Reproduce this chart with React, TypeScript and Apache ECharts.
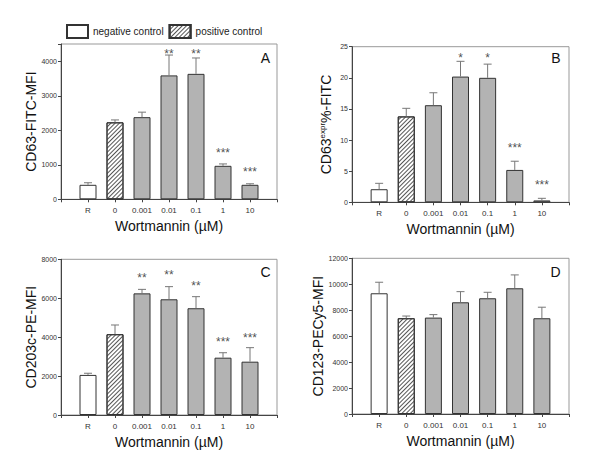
import React, { useEffect, useRef } from "react";
import * as echarts from "echarts";

const categories = ["R", "0", "0.001", "0.01", "0.1", "1", "10"];

const meanA = [420, 2230, 2380, 3590, 3635, 970, 420];
const semA = [60, 70, 145, 590, 460, 55, 30];
const sigA = ["", "", "", "**", "**", "***", "***"];
const sigYA = [null, null, null, 4300, 4300, 1430, 880];

const meanB = [2.1, 13.8, 15.6, 20.2, 20.0, 5.2, 0.3];
const semB = [0.95, 1.3, 2.0, 2.45, 2.2, 1.4, 0.34];
const sigB = ["", "", "", "*", "*", "***", "***"];
const sigYB = [null, null, null, 23.7, 23.7, 9.2, 3.3];

const meanC = [2060, 4150, 6250, 5945, 5485, 2945, 2740];
const semC = [85, 475, 205, 650, 595, 255, 720];
const sigC = ["", "", "**", "**", "**", "***", "***"];
const sigYC = [null, null, 7190, 7330, 6770, 3890, 4110];

const meanD = [9305, 7380, 7430, 8610, 8920, 9690, 7380];
const semD = [850, 170, 230, 820, 460, 1030, 850];
const sigD = ["", "", "", "", "", "", ""];
const sigYD = [null, null, null, null, null, null, null];

const yMax = [4500, 25, 8000, 12000];
const yInterval = [1000, 5, 2000, 2000];
const yTitles = [
  "CD63-FITC-MFI",
  "{a|CD63}{s|expr}{a|%-FITC}",
  "CD203c-PE-MFI",
  "CD123-PECy5-MFI",
];
const panelLetters = ["A", "B", "C", "D"];
const xTitle = "Wortmannin (\u00b5M)";
const legendNames = ["negative control", "positive control"];

const FONT = "'Liberation Sans', Arial, Helvetica, sans-serif";

const panels = [
  { mean: meanA, sem: semA, sig: sigA, sigY: sigYA },
  { mean: meanB, sem: semB, sig: sigB, sigY: sigYB },
  { mean: meanC, sem: semC, sig: sigC, sigY: sigYC },
  { mean: meanD, sem: semD, sig: sigD, sigY: sigYD },
];

const grids = [
  { left: 61, top: 44, width: 216, height: 155.3 },
  { left: 352, top: 46.7, width: 217, height: 155.6 },
  { left: 61, top: 259.3, width: 216, height: 155.7 },
  { left: 352, top: 258.3, width: 217, height: 155.7 },
];

const letterPos = [
  { x: 270, y: 50.5 },
  { x: 560.5, y: 50.5 },
  { x: 270.5, y: 264.5 },
  { x: 560.5, y: 264.5 },
];

const paddedCats = ["", ...categories, ""];

function slot(values: number[], which: (i: number) => boolean) {
  const out: any[] = paddedCats.map(() => "-");
  values.forEach((v, i) => {
    if (which(i)) out[i + 1] = v;
  });
  return out;
}

export default function App() {
  const ref = useRef<HTMLDivElement>(null);
  useEffect(() => {
    if (!ref.current) return;
    const chart = echarts.init(ref.current, undefined, { renderer: "svg" });

    const series: any[] = [];
    panels.forEach((p, k) => {
      const common = {
        type: "bar",
        xAxisIndex: k,
        yAxisIndex: k,
        barWidth: 17,
        barGap: "-100%",
        z: 2,
      };
      series.push({
        ...common,
        name: legendNames[0],
        data: slot(p.mean, (i) => i === 0),
        itemStyle: { color: "#ffffff", borderColor: "#333", borderWidth: 1 },
      });
      series.push({
        ...common,
        name: legendNames[1],
        data: slot(p.mean, (i) => i === 1),
        itemStyle: {
          color: "#ffffff",
          borderColor: "#333",
          borderWidth: 1,
          decal: {
            symbol: "rect",
            symbolSize: 1,
            color: "#555",
            dashArrayX: [1, 0],
            dashArrayY: [1, 2],
            rotation: -Math.PI / 4,
          },
        },
      });
      series.push({
        ...common,
        name: "Wortmannin",
        data: slot(p.mean, (i) => i >= 2),
        itemStyle: { color: "#b3b3b3", borderColor: "#333", borderWidth: 1 },
      });
      series.push({
        type: "custom",
        name: "error",
        xAxisIndex: k,
        yAxisIndex: k,
        z: 3,
        silent: true,
        data: p.mean.map((m, i) => [i + 1, m, m + p.sem[i]]),
        renderItem: (params: any, api: any) => {
          const x = api.value(0);
          const p0 = api.coord([x, api.value(1)]);
          const p1 = api.coord([x, api.value(2)]);
          const st = { stroke: "#777", lineWidth: 1 };
          return {
            type: "group",
            children: [
              {
                type: "line",
                shape: { x1: p0[0], y1: p0[1], x2: p1[0], y2: p1[1] },
                style: st,
              },
              {
                type: "line",
                shape: { x1: p1[0] - 4, y1: p1[1], x2: p1[0] + 4, y2: p1[1] },
                style: st,
              },
            ],
          };
        },
      });
      const sigData: any[] = [];
      p.sig.forEach((s, i) => {
        if (s && p.sigY[i] != null) sigData.push({ name: s, value: [i + 1, p.sigY[i]] });
      });
      series.push({
        type: "scatter",
        name: "sig",
        xAxisIndex: k,
        yAxisIndex: k,
        silent: true,
        symbolSize: 1,
        itemStyle: { color: "rgba(0,0,0,0)" },
        z: 4,
        label: {
          show: true,
          position: "inside",
          formatter: "{b}",
          fontSize: 12,
          fontFamily: FONT,
          color: "#222",
          offset: [0, 3],
        },
        data: sigData,
      });
    });

    const option: any = {
      animation: false,
      backgroundColor: "#ffffff",
      textStyle: { fontFamily: FONT },
      legend: {
        data: legendNames,
        left: 61,
        top: 19,
        itemWidth: 21,
        itemHeight: 13,
        itemGap: 5,
        icon: "rect",
        selectedMode: false,
        textStyle: { fontSize: 10, color: "#222", fontFamily: FONT },
      },
      grid: grids.map((g) => ({
        ...g,
        show: true,
        borderColor: "#999",
        borderWidth: 1,
        backgroundColor: "transparent",
      })),
      xAxis: grids.map((g, k) => ({
        type: "category",
        gridIndex: k,
        data: paddedCats,
        boundaryGap: false,
        name: xTitle,
        nameLocation: "middle",
        nameGap: 20,
        nameTextStyle: { fontSize: 14, color: "#111", fontFamily: FONT },
        axisLine: { lineStyle: { color: "#444", width: 1 } },
        axisTick: { show: true, inside: false, length: 3, lineStyle: { color: "#444" } },
        axisLabel: { fontSize: 8, color: "#333", margin: 7, interval: 0, fontFamily: FONT },
        splitLine: { show: false },
      })),
      yAxis: grids.map((g, k) => ({
        type: "value",
        gridIndex: k,
        min: 0,
        max: yMax[k],
        interval: yInterval[k],
        name: yTitles[k],
        nameLocation: "middle",
        nameRotate: 90,
        nameGap: k === 0 || k === 2 ? 16 : 18,
        nameTextStyle: {
          fontSize: 14,
          color: "#111",
          fontFamily: FONT,
          rich: {
            a: { fontSize: 14, color: "#111", fontFamily: FONT, lineHeight: 16 },
            s: { fontSize: 8, color: "#111", fontFamily: FONT, verticalAlign: "top", lineHeight: 16 },
          },
        },
        axisLine: { show: true, lineStyle: { color: "#444", width: 1 } },
        axisTick: { show: true, inside: false, length: 3, lineStyle: { color: "#444" } },
        axisLabel: {
          fontSize: 7,
          color: "#333",
          margin: 4,
          fontFamily: FONT,
          formatter: (v: number) => (v % yInterval[k] === 0 ? String(v) : ""),
        },
        splitLine: { show: false },
      })),
      graphic: panelLetters.map((t, k) => ({
        type: "text",
        x: letterPos[k].x,
        y: letterPos[k].y,
        style: {
          text: t,
          fontSize: 14,
          fontFamily: FONT,
          fill: "#111",
          textAlign: "right",
          textVerticalAlign: "top",
        },
      })),
      series,
    };
    chart.setOption(option);
    return () => chart.dispose();
  }, []);
  return (
    <div
      ref={ref}
      style={{ position: "fixed", left: 0, top: 0, width: 600, height: 465, background: "#fff" }}
    />
  );
}
